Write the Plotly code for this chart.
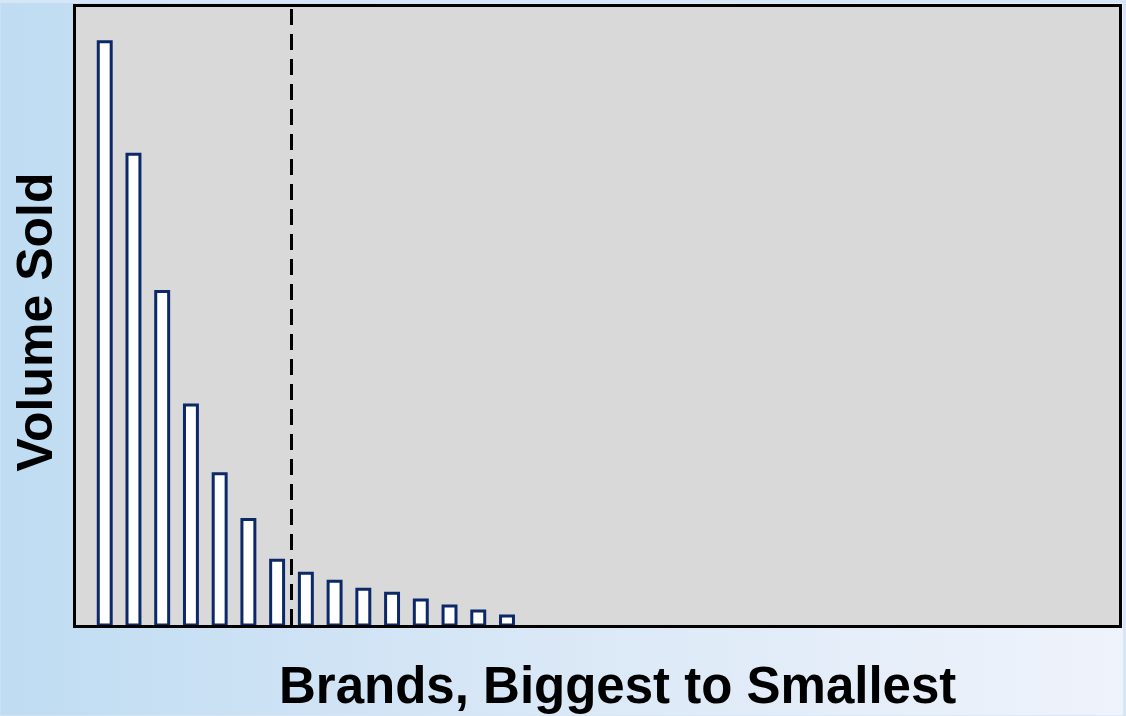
import plotly.graph_objects as go
import base64

# Data
brand_rank = list(range(1, 16))
volume_sold = [586, 473, 335, 221, 152, 106, 65, 52, 44, 36, 32, 25, 19, 14, 9]
cutoff_position = 7.5
x_title = "Brands, Biggest to Smallest"
y_title = "Volume Sold"

W, H = 1126, 716
ML, MR, MT, MB = 76, 4, 4, 91
pw, ph = W - ML - MR, H - MT - MB

svg = (
    '<svg xmlns="http://www.w3.org/2000/svg" width="1126" height="716" preserveAspectRatio="none">'
    '<defs><linearGradient id="g" x1="0" y1="0" x2="1" y2="0">'
    '<stop offset="0" stop-color="#bfdcf2"/>'
    '<stop offset="0.45" stop-color="#d8e7f6"/>'
    '<stop offset="1" stop-color="#eff3fb"/>'
    '</linearGradient></defs>'
    '<rect width="1126" height="716" fill="url(#g)"/></svg>'
)
bg_uri = "data:image/svg+xml;base64," + base64.b64encode(svg.encode()).decode()

fig = go.Figure()
fig.add_trace(go.Bar(
    x=brand_rank, y=volume_sold, width=0.45,
    marker=dict(color="white", line=dict(color="#0c2868", width=3)),
    hoverinfo="skip", showlegend=False,
))

fig.update_layout(
    width=W, height=H,
    margin=dict(l=ML, r=MR, t=MT, b=MB, pad=0),
    paper_bgcolor="#d6e6f6",
    plot_bgcolor="rgba(0,0,0,0)",
    xaxis=dict(range=[0, 36.3], showticklabels=False, ticks="", showgrid=False,
               zeroline=False, showline=True, linecolor="black", linewidth=2.5, mirror=True),
    yaxis=dict(range=[0, 621], showticklabels=False, ticks="", showgrid=False,
               zeroline=False, showline=True, linecolor="black", linewidth=2.5, mirror=True),
    images=[dict(source=bg_uri, xref="paper", yref="paper",
                 x=-ML / pw, y=1 + MT / ph, sizex=W / pw, sizey=H / ph,
                 sizing="stretch", xanchor="left", yanchor="top", layer="below")],
    shapes=[
        dict(type="rect", xref="paper", yref="paper", x0=0, x1=1, y0=0, y1=1,
             fillcolor="#d9d9d9", line=dict(width=0), layer="below"),
        dict(type="line", xref="x", yref="paper", x0=cutoff_position, x1=cutoff_position,
             y0=0, y1=1, line=dict(color="black", width=3, dash="16px,9px"), layer="above"),
    ],
    annotations=[
        dict(text="<b>" + x_title + "</b>", xref="paper", yref="paper",
             x=(619 - ML) / pw, y=-(686 - MT - ph) / ph,
             showarrow=False, font=dict(family="Liberation Sans, Arial", size=51, color="black"),
             xanchor="center", yanchor="middle"),
        dict(text="<b>" + y_title + "</b>", xref="paper", yref="paper",
             x=(35 - ML) / pw, y=1 - (321 - MT) / ph,
             textangle=-90, showarrow=False,
             font=dict(family="Liberation Sans, Arial", size=50, color="black"),
             xanchor="center", yanchor="middle"),
    ],
)

fig.write_html("out.html")
